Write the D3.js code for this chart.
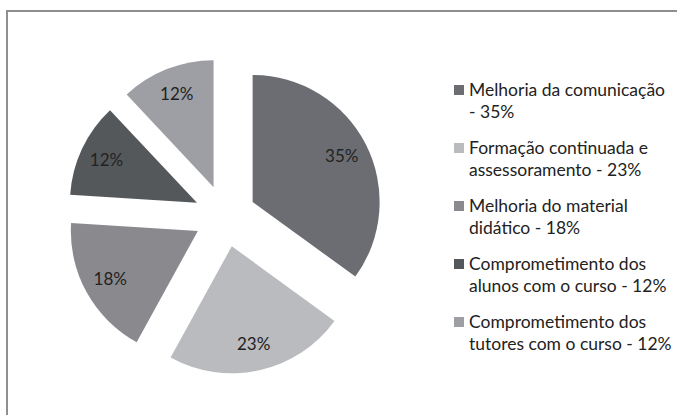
<!DOCTYPE html>
<html>
<head>
<meta charset="utf-8">
<script src="https://cdn.jsdelivr.net/npm/d3@7"></script>
<style>
  body { margin: 0; background: #fff; }
  text { font-family: Lato, "Open Sans", sans-serif; fill: #222; }
</style>
</head>
<body>
<svg id="chart" width="677" height="415"></svg>
<script>
// data
var categories = [
    "Melhoria da comunicação - 35%",
    "Formação continuada e assessoramento - 23%",
    "Melhoria do material didático - 18%",
    "Comprometimento dos alunos com o curso - 12%",
    "Comprometimento dos tutores com o curso - 12%"
];
var legendLines = [
    ["Melhoria da comunicação", "- 35%"],
    ["Formação continuada e", "assessoramento - 23%"],
    ["Melhoria do material", "didático - 18%"],
    ["Comprometimento dos", "alunos com o curso - 12%"],
    ["Comprometimento dos", "tutores com o curso - 12%"]
];
var values = [35, 23, 18, 12, 12];
var colors = ["#6b6d72", "#b9bbbf", "#8a8a8e", "#55585b", "#9e9fa4"];

var svg = d3.select("#chart");

// chart frame (only left and top edges are visible in the crop)
svg.append("rect")
    .attr("x", 7).attr("y", 11)
    .attr("width", 700).attr("height", 430)
    .attr("fill", "none")
    .attr("stroke", "#8f8f8f")
    .attr("stroke-width", 2);

var radius = 127,
    explode = 31,
    labelRadius = 100;

var g = svg.append("g").attr("transform", "translate(225,216)");

var pie = d3.pie().sort(null).value(function (d) { return d; });
var arc = d3.arc().innerRadius(0).outerRadius(radius);
var labelArc = d3.arc().innerRadius(labelRadius).outerRadius(labelRadius);

function offset(d) {
    var a = (d.startAngle + d.endAngle) / 2;
    return [Math.sin(a) * explode, -Math.cos(a) * explode];
}

var slice = g.selectAll("g.slice")
    .data(pie(values))
    .enter().append("g")
    .attr("class", "slice")
    .attr("transform", function (d) {
        var o = offset(d);
        return "translate(" + o[0] + "," + o[1] + ")";
    });

slice.append("path")
    .attr("d", arc)
    .attr("fill", function (d, i) { return colors[i]; });

slice.append("text")
    .attr("transform", function (d) {
        return "translate(" + labelArc.centroid(d) + ")";
    })
    .attr("text-anchor", "middle")
    .attr("dy", "0.35em")
    .style("font-size", "17px")
    .text(function (d) { return d.data + "%"; });

// legend
var legend = svg.append("g").attr("transform", "translate(454,90)");

var item = legend.selectAll("g.item")
    .data(categories)
    .enter().append("g")
    .attr("class", "item")
    .attr("transform", function (d, i) { return "translate(0," + (i * 58) + ")"; });

item.append("rect")
    .attr("x", 0).attr("y", -5)
    .attr("width", 10).attr("height", 10)
    .attr("fill", function (d, i) { return colors[i]; });

item.append("text")
    .attr("x", 15)
    .style("font-size", "17.5px")
    .selectAll("tspan")
    .data(function (d, i) { return legendLines[i]; })
    .enter().append("tspan")
    .attr("x", 15)
    .attr("y", function (d, j) { return j * 22; })
    .attr("dy", "0.35em")
    .text(function (d) { return d; });
</script>
</body>
</html>
